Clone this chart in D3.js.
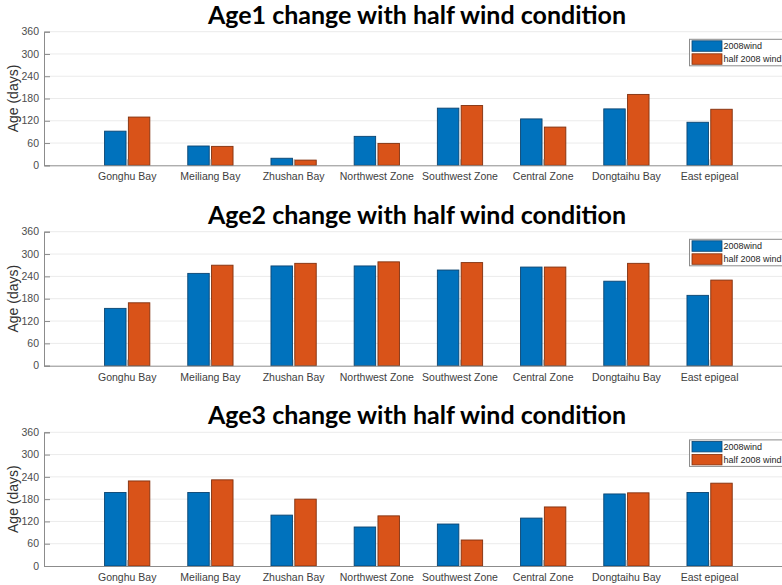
<!DOCTYPE html>
<html><head><meta charset="utf-8">
<script src="https://cdn.jsdelivr.net/npm/d3@7"></script>
<style>body{margin:0;background:#fff;overflow:hidden}svg{display:block}</style>
</head><body>
<script>
const categories = ["Gonghu Bay","Meiliang Bay","Zhushan Bay","Northwest Zone","Southwest Zone","Central Zone","Dongtaihu Bay","East epigeal"];
const seriesNames = ["2008wind","half 2008 wind"];
const titles = ["Age1 change with half wind condition","Age2 change with half wind condition","Age3 change with half wind condition"];
const age1Wind = [92,52,19,78,154,125,152,116];
const age1Half = [130,51,14,59,161,103,191,151];
const age2Wind = [154,248,268,268,257,265,227,189];
const age2Half = [169,270,275,279,277,265,275,230];
const age3Wind = [198,198,137,105,113,129,194,198];
const age3Half = [229,232,180,135,70,159,197,223];
const yTicks = [0,60,120,180,240,300,360];

const panels = [
  {title: titles[0], a: age1Wind, b: age1Half, top: 31.7, bottom: 165.3, titleY: 23.5},
  {title: titles[1], a: age2Wind, b: age2Half, top: 231.7, bottom: 365.7, titleY: 223.5},
  {title: titles[2], a: age3Wind, b: age3Half, top: 432.3, bottom: 566, titleY: 423.5}
];
const colors = ["#0072BD","#D95319"];
const edges = ["#0b4470","#80300e"];
const W = 782, H = 585;
const svg = d3.select("body").append("svg").attr("width", W).attr("height", H);

const x = d3.scaleLinear().domain([0, 9]).range([44, 44 + 9 * 83.2]);
const barW = 0.258, halfGap = 0.014;

panels.forEach(p => {
  const y = d3.scaleLinear().domain([0, 360]).range([p.bottom, p.top]);
  const g = svg.append("g");
  g.selectAll("line.grid").data(yTicks.filter(t => t > 0)).enter().append("line")
    .attr("x1", x(0)).attr("x2", x(9)).attr("y1", d => y(d)).attr("y2", d => y(d))
    .attr("stroke", "#ebebeb").attr("stroke-width", 1);
  [p.a, p.b].forEach((vals, si) => {
    g.selectAll("rect.s" + si).data(vals).enter().append("rect")
      .attr("x", (d, i) => si === 0 ? x(i + 1 - halfGap - barW) : x(i + 1 + halfGap))
      .attr("width", x(barW) - x(0))
      .attr("y", d => y(d)).attr("height", d => y(0) - y(d))
      .attr("fill", colors[si]).attr("stroke", edges[si]).attr("stroke-width", 0.9);
  });
  const ya = d3.axisRight(y).tickValues(yTicks).tickSize(6).tickFormat("");
  const yg = g.append("g").attr("transform", `translate(${x(0)},0)`).call(ya);
  yg.select(".domain").attr("stroke", "#8c8c8c");
  yg.selectAll(".tick line").attr("stroke", "#8c8c8c");
  g.selectAll("text.yt").data(yTicks).enter().append("text")
    .attr("x", 39).attr("y", d => y(d)).attr("dy", "0.35em")
    .attr("text-anchor", "end").attr("font-family", "Liberation Sans, Arial, sans-serif")
    .attr("font-size", 10.5).attr("fill", "#4d4d4d").text(d => d);
  const xa = d3.axisTop(x).tickValues(d3.range(1, 9)).tickSize(6).tickFormat("");
  const xg = g.append("g").attr("transform", `translate(0,${y(0)})`).call(xa);
  xg.select(".domain").attr("stroke", "#8c8c8c");
  xg.selectAll(".tick line").attr("stroke", "#a0a0a0");
  g.selectAll("text.xt").data(categories).enter().append("text")
    .attr("x", (d, i) => x(i + 1)).attr("y", y(0) + 15)
    .attr("text-anchor", "middle").attr("font-family", "Liberation Sans, Arial, sans-serif")
    .attr("font-size", 10.5).attr("fill", "#404040").text(d => d);
  const cy = (p.top + p.bottom) / 2;
  g.append("text").attr("transform", `translate(18,${cy}) rotate(-90)`)
    .attr("text-anchor", "middle").attr("font-family", "Liberation Sans, Arial, sans-serif")
    .attr("font-size", 14).attr("fill", "#333").text("Age (days)");
  g.append("text").attr("x", 417).attr("y", p.titleY)
    .attr("text-anchor", "middle").attr("font-family", "Lato, Open Sans, sans-serif")
    .attr("font-weight", "bold").attr("font-size", 25).attr("fill", "#000").text(p.title);
  const lx = 689.5, ly = p.top + 7.6;
  const lg = g.append("g");
  lg.append("rect").attr("x", lx).attr("y", ly).attr("width", 120).attr("height", 26.5)
    .attr("fill", "#fff").attr("stroke", "#8c8c8c").attr("stroke-width", 1);
  seriesNames.forEach((n, i) => {
    lg.append("rect").attr("x", lx + 2.5).attr("y", ly + 1.5 + i * 13).attr("width", 30).attr("height", 10.5)
      .attr("fill", colors[i]).attr("stroke", edges[i]).attr("stroke-width", 0.8);
    lg.append("text").attr("x", lx + 34).attr("y", ly + 7 + i * 13).attr("dy", "0.35em")
      .attr("font-family", "Liberation Sans, Arial, sans-serif").attr("font-size", 9)
      .attr("fill", "#262626").text(n);
  });
});
</script>
</body></html>
